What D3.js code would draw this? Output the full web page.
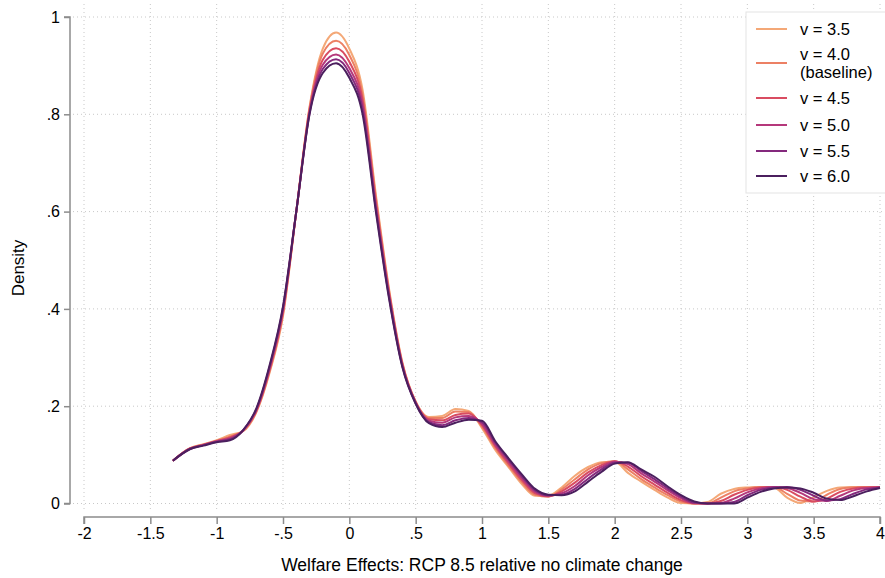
<!DOCTYPE html>
<html>
<head>
<meta charset="utf-8">
<script src="https://cdn.jsdelivr.net/npm/d3@7"></script>
<style>
  body { margin: 0; background: #fff; }
  text { font-family: "Liberation Sans", Arial, Helvetica, sans-serif; fill: #000; }
</style>
</head>
<body>
<div id="chart"></div>
<script>
// x grid shared by all density curves
const xs = [-1.33, -1.2, -1.1, -1.0, -0.9, -0.8, -0.7, -0.6, -0.5, -0.4, -0.3, -0.2, -0.1, 0, 0.1, 0.2, 0.3, 0.4, 0.5, 0.6,
  0.7, 0.8, 0.9, 1.0, 1.1, 1.2, 1.3, 1.4, 1.5, 1.6, 1.7, 1.8, 1.9, 2.0, 2.1, 2.2, 2.3, 2.4, 2.5, 2.6,
  2.7, 2.8, 2.9, 3.0, 3.1, 3.2, 3.3, 3.4, 3.5, 3.6, 3.7, 3.8, 3.9, 4.0];

const v35 = [0.088, 0.114, 0.122, 0.130, 0.141, 0.149, 0.188, 0.270, 0.385, 0.600, 0.815, 0.935, 0.968, 0.935, 0.850, 0.635, 0.440, 0.290, 0.210, 0.178,
  0.180, 0.194, 0.190, 0.155, 0.110, 0.075, 0.040, 0.016, 0.016, 0.033, 0.057, 0.075, 0.085, 0.086, 0.063, 0.045, 0.028, 0.012, 0.001, 0.000,
  0.003, 0.020, 0.030, 0.033, 0.034, 0.033, 0.012, 0.001, 0.013, 0.026, 0.033, 0.034, 0.034, 0.034];
const v40 = [0.088, 0.114, 0.121, 0.129, 0.138, 0.149, 0.190, 0.273, 0.390, 0.600, 0.812, 0.925, 0.951, 0.922, 0.840, 0.628, 0.436, 0.288, 0.209, 0.176,
  0.176, 0.189, 0.188, 0.158, 0.114, 0.078, 0.044, 0.018, 0.014, 0.029, 0.050, 0.070, 0.083, 0.087, 0.070, 0.050, 0.033, 0.017, 0.004, 0.000,
  0.000, 0.012, 0.025, 0.031, 0.034, 0.034, 0.020, 0.006, 0.004, 0.018, 0.030, 0.033, 0.034, 0.034];
const v45 = [0.088, 0.113, 0.121, 0.128, 0.136, 0.150, 0.191, 0.276, 0.394, 0.600, 0.808, 0.912, 0.936, 0.908, 0.830, 0.620, 0.432, 0.286, 0.208, 0.173,
  0.171, 0.182, 0.185, 0.161, 0.118, 0.082, 0.048, 0.021, 0.015, 0.025, 0.043, 0.064, 0.079, 0.087, 0.076, 0.056, 0.039, 0.022, 0.007, 0.000,
  0.000, 0.005, 0.018, 0.028, 0.033, 0.034, 0.028, 0.014, 0.004, 0.010, 0.024, 0.031, 0.033, 0.034];
const v50 = [0.088, 0.113, 0.120, 0.128, 0.134, 0.150, 0.193, 0.279, 0.398, 0.600, 0.805, 0.902, 0.923, 0.895, 0.820, 0.612, 0.428, 0.284, 0.207, 0.170,
  0.166, 0.177, 0.180, 0.164, 0.121, 0.086, 0.052, 0.024, 0.016, 0.021, 0.036, 0.058, 0.075, 0.086, 0.081, 0.062, 0.045, 0.027, 0.011, 0.001,
  0.000, 0.001, 0.010, 0.023, 0.031, 0.034, 0.032, 0.022, 0.009, 0.005, 0.016, 0.027, 0.032, 0.033];
const v55 = [0.088, 0.112, 0.120, 0.127, 0.132, 0.151, 0.194, 0.282, 0.402, 0.600, 0.802, 0.893, 0.913, 0.885, 0.810, 0.606, 0.424, 0.282, 0.206, 0.167,
  0.161, 0.171, 0.176, 0.167, 0.125, 0.090, 0.056, 0.027, 0.017, 0.018, 0.030, 0.051, 0.070, 0.084, 0.084, 0.067, 0.050, 0.031, 0.014, 0.002,
  0.000, 0.000, 0.003, 0.017, 0.028, 0.033, 0.034, 0.028, 0.016, 0.006, 0.009, 0.020, 0.029, 0.033];
const v60 = [0.088, 0.112, 0.119, 0.126, 0.130, 0.151, 0.196, 0.285, 0.405, 0.600, 0.800, 0.885, 0.905, 0.875, 0.800, 0.600, 0.420, 0.280, 0.205, 0.165,
  0.157, 0.166, 0.172, 0.170, 0.128, 0.093, 0.060, 0.030, 0.018, 0.017, 0.025, 0.045, 0.065, 0.082, 0.085, 0.070, 0.055, 0.035, 0.017, 0.004,
  0.000, 0.000, 0.000, 0.012, 0.024, 0.031, 0.033, 0.031, 0.022, 0.010, 0.007, 0.015, 0.025, 0.032];

const seriesNames = ["v = 3.5", "v = 4.0\n(baseline)", "v = 4.5", "v = 5.0", "v = 5.5", "v = 6.0"];
const seriesValues = [v35, v40, v45, v50, v55, v60];
const colors = ["#f4a877", "#ec8064", "#d94c61", "#b5387b", "#84297d", "#4b1f5e"];

const xTicks = [-2, -1.5, -1, -0.5, 0, 0.5, 1, 1.5, 2, 2.5, 3, 3.5, 4];
const xTickLabels = ["-2", "-1.5", "-1", "-.5", "0", ".5", "1", "1.5", "2", "2.5", "3", "3.5", "4"];
const yTicks = [0, 0.2, 0.4, 0.6, 0.8, 1];
const yTickLabels = ["0", ".2", ".4", ".6", ".8", "1"];

const W = 885, H = 578;
const svg = d3.select("#chart").append("svg")
  .attr("width", W)
  .attr("height", H);

const x = d3.scaleLinear().domain([-2, 4]).range([84, 880]);
const y = d3.scaleLinear().domain([0, 1]).range([503.5, 17]);

// gridlines (dotted)
const grid = svg.append("g")
  .attr("stroke", "#c8c8c8")
  .attr("stroke-width", 1)
  .attr("stroke-dasharray", "1,3");
grid.selectAll("line.h")
  .data(yTicks)
  .enter().append("line")
  .attr("x1", 73).attr("x2", 884)
  .attr("y1", d => y(d)).attr("y2", d => y(d));
grid.selectAll("line.v")
  .data(xTicks)
  .enter().append("line")
  .attr("x1", d => x(d)).attr("x2", d => x(d))
  .attr("y1", 4).attr("y2", 512);

// y axis (offset to the left of the plot)
const yAxis = svg.append("g")
  .attr("transform", "translate(70,0)")
  .call(d3.axisLeft(y).tickValues(yTicks).tickSize(6).tickPadding(4)
    .tickFormat((d, i) => yTickLabels[i]));

// x axis (offset below the plot)
const xAxis = svg.append("g")
  .attr("transform", "translate(0,517)")
  .call(d3.axisBottom(x).tickValues(xTicks).tickSize(7).tickPadding(4)
    .tickFormat((d, i) => xTickLabels[i]));

[yAxis, xAxis].forEach(a => {
  a.select(".domain").attr("stroke", "#8c8c8c").attr("stroke-width", 1.5);
  a.selectAll(".tick line").attr("stroke", "#8c8c8c").attr("stroke-width", 1.5);
  a.selectAll(".tick text").style("font-size", "16px").attr("fill", "#000");
});
yAxis.select(".domain").attr("d", `M-6,${y(1)}H0V${y(0)}H-6`);
xAxis.select(".domain").attr("d", `M${x(-2)},7V0H${x(4)}V7`);

// density curves
const line = d3.line()
  .x((d, i) => x(xs[i]))
  .y(d => y(d))
  .curve(d3.curveMonotoneX);

svg.append("g").selectAll("path")
  .data(seriesValues)
  .enter().append("path")
  .attr("fill", "none")
  .attr("stroke", (d, i) => colors[i])
  .attr("stroke-width", 2)
  .attr("stroke-linejoin", "round")
  .attr("d", line);

// axis titles
svg.append("text")
  .attr("transform", "rotate(-90)")
  .attr("x", -268)
  .attr("y", 24)
  .style("text-anchor", "middle")
  .style("font-size", "17px")
  .text("Density");

svg.append("text")
  .attr("x", x(1))
  .attr("y", 571)
  .style("text-anchor", "middle")
  .style("font-size", "17.5px")
  .text("Welfare Effects: RCP 8.5 relative no climate change");

// legend
const legend = svg.append("g");
legend.append("rect")
  .attr("x", 746).attr("y", 12)
  .attr("width", 145).attr("height", 181)
  .attr("fill", "#fff")
  .attr("stroke", "#e3e3e3")
  .attr("stroke-width", 1);

const rowY = [29, 63, 98, 125, 151, 176];
seriesNames.forEach((name, i) => {
  legend.append("line")
    .attr("x1", 756).attr("x2", 787)
    .attr("y1", rowY[i]).attr("y2", rowY[i])
    .attr("stroke", colors[i])
    .attr("stroke-width", 2);
  const parts = name.split("\n");
  const t = legend.append("text")
    .attr("x", 800)
    .attr("y", rowY[i] - (parts.length - 1) * 8.5)
    .style("font-size", "16.5px");
  parts.forEach((p, j) => {
    t.append("tspan")
      .attr("x", 800)
      .attr("dy", j === 0 ? "0.35em" : "1.05em")
      .text(p);
  });
});
</script>
</body>
</html>
